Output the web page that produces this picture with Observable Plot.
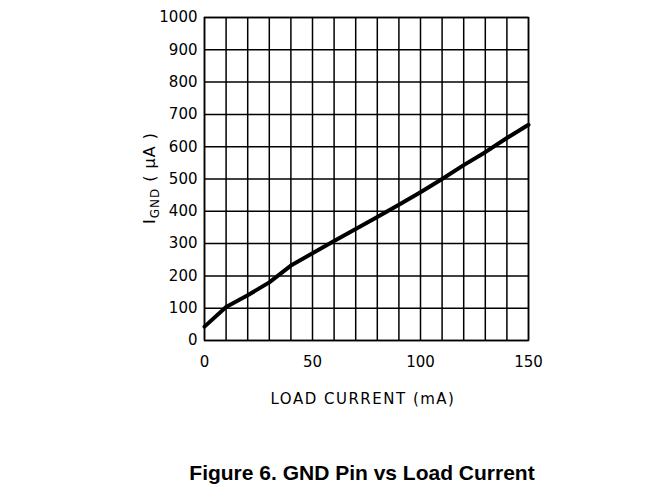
<!DOCTYPE html>
<html><head><meta charset="utf-8">
<script src="https://cdn.jsdelivr.net/npm/d3@7"></script>
<script src="https://cdn.jsdelivr.net/npm/@observablehq/plot@0.6"></script>
<style>
body{margin:0;background:#fff;width:666px;height:489px;position:relative;overflow:hidden;}
#topline{position:absolute;left:0;top:4px;width:666px;height:0;border-top:1px solid #333;}
#chart{position:absolute;left:0;top:0;}
#title{position:absolute;left:362px;top:461px;transform:translateX(-50%);white-space:nowrap;font-family:"Liberation Sans",Arial,sans-serif;font-weight:bold;font-size:21px;line-height:24px;color:#000;}
</style></head>
<body>
<div id="topline"></div>
<div id="chart"></div>
<div id="title">Figure 6. GND Pin vs Load Current</div>
<script>
const loadCurrent = [0, 10, 20, 30, 40, 50, 60, 70, 80, 90, 100, 110, 120, 130, 140, 150];
const iGnd = [43, 104, 140, 180, 232, 270, 308, 345, 382, 420, 459, 500, 543, 583, 627, 668];
const xTicks = [0, 50, 100, 150];
const yTicks = [0, 100, 200, 300, 400, 500, 600, 700, 800, 900, 1000];
const xLabel = "LOAD CURRENT (mA)";

const data = loadCurrent.map((x, i) => ({x, y: iGnd[i]}));
const font = "'DejaVu Sans', sans-serif";

const plot = Plot.plot({
  width: 666, height: 420,
  marginLeft: 204, marginRight: 138, marginTop: 17, marginBottom: 80,
  style: {fontFamily: font, fontSize: "15px", color: "#000", background: "white"},
  x: {domain: [0, 150], label: null},
  y: {domain: [0, 1000], label: null},
  marks: [
    Plot.gridX(d3.range(0, 151, 10), {stroke: "#000", strokeOpacity: 1, strokeWidth: 1.5}),
    Plot.gridY(yTicks, {stroke: "#000", strokeOpacity: 1, strokeWidth: 1.5}),
    Plot.frame({stroke: "#000", strokeWidth: 1.5}),
    Plot.axisX(xTicks, {tickSize: 0, tickPadding: 16, fontSize: 15, letterSpacing: "0.5px", tickFormat: d3.format("d")}),
    Plot.axisY(yTicks, {tickSize: 0, tickPadding: 7, fontSize: 15, letterSpacing: "0.5px", tickFormat: d3.format("d")}),
    Plot.line(data, {x: "x", y: "y", stroke: "#000", strokeWidth: 4, strokeLinejoin: "round"})
  ]
});
document.getElementById("chart").appendChild(plot);

const svg = d3.select(plot);
svg.append("text")
  .attr("x", 363).attr("y", 404)
  .attr("text-anchor", "middle")
  .attr("font-family", font).attr("font-size", 15).attr("letter-spacing", "1.5px")
  .attr("fill", "#000")
  .text(xLabel);

const yl = svg.append("text")
  .attr("transform", "translate(155,178) rotate(-90)")
  .attr("text-anchor", "middle")
  .attr("font-family", font).attr("font-size", 16).attr("letter-spacing", "1px")
  .attr("fill", "#000");
yl.append("tspan").text("I");
yl.append("tspan").attr("font-size", 12).attr("dy", "4").text("GND");
yl.append("tspan").attr("dy", "-4").text(" ( μA )");
</script>
</body></html>
